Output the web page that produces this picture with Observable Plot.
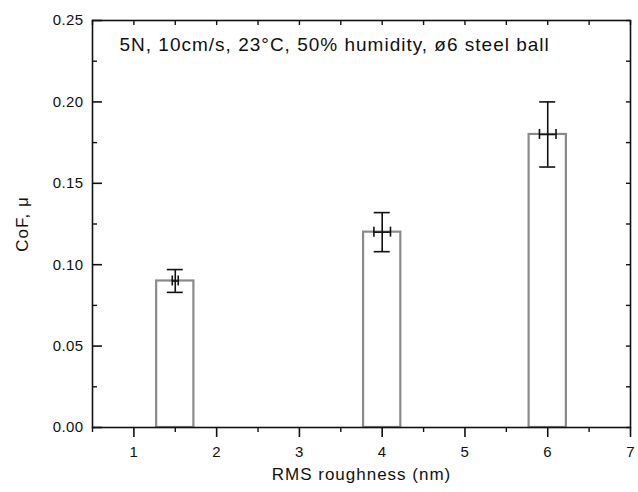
<!DOCTYPE html>
<html>
<head>
<meta charset="utf-8">
<script src="https://cdn.jsdelivr.net/npm/d3@7"></script>
<script src="https://cdn.jsdelivr.net/npm/@observablehq/plot@0.6"></script>
<style>
  html, body { margin: 0; padding: 0; background: #fff; }
  #chart svg { display: block; }
  #chart g[aria-label="text"] text { letter-spacing: 1px; }
  #chart g[aria-label="x-axis tick label"] text,
  #chart g[aria-label="y-axis tick label"] text { letter-spacing: 0.4px; }
</style>
</head>
<body>
<div id="chart"></div>
<script>
// ---- data ----
const roughness = [1.5, 4, 6];          // RMS roughness (nm)
const cof = [0.09, 0.12, 0.18];         // CoF, μ
const cofErr = [0.007, 0.012, 0.02];    // ± CoF
const roughErr = [0.036, 0.1, 0.1];     // ± roughness
const barHalfWidth = 0.225;             // half width of bars (nm)

const xMajorTicks = [1, 2, 3, 4, 5, 6, 7];
const xMinorTicks = [0.5, 1.5, 2.5, 3.5, 4.5, 5.5, 6.5];
const xAllTicks = [0.5, 1, 1.5, 2, 2.5, 3, 3.5, 4, 4.5, 5, 5.5, 6, 6.5, 7];
const yMajorTicks = [0, 0.05, 0.10, 0.15, 0.20, 0.25];
const yMinorTicks = [0.025, 0.075, 0.125, 0.175, 0.225];
const yAllTicks = [0, 0.025, 0.05, 0.075, 0.10, 0.125, 0.15, 0.175, 0.20, 0.225, 0.25];

const annotation = "5N, 10cm/s, 23°C, 50% humidity, ø6 steel ball";
const xLabel = "RMS roughness (nm)";
const yLabel = "CoF, μ";

const rows = roughness.map((r, i) => ({r, c: cof[i], ce: cofErr[i], re: roughErr[i]}));

// ---- layout ----
const W = 638, H = 492;
const mL = 92, mR = 8, mT = 20, mB = 65;
const pW = W - mL - mR, pH = H - mT - mB;
const ink = "#111";

const chart = Plot.plot({
  width: W,
  height: H,
  marginLeft: mL,
  marginRight: mR,
  marginTop: mT,
  marginBottom: mB,
  style: {fontFamily: "'Liberation Sans', Arial, Helvetica, sans-serif", fontSize: "15px", color: ink, background: "#fff"},
  x: {domain: [0.5, 7]},
  y: {domain: [0, 0.25]},
  marks: [
    // bars
    Plot.rectY(rows, {x1: d => d.r - barHalfWidth, x2: d => d.r + barHalfWidth, y1: 0, y2: "c",
      fill: "white", stroke: "#8a8a8a", strokeWidth: 2.2}),
    // vertical error bars
    Plot.ruleX(rows, {x: "r", y1: d => d.c - d.ce, y2: d => d.c + d.ce, stroke: ink, strokeWidth: 1.6}),
    Plot.ruleY(rows, {y: d => d.c - d.ce, x1: "r", x2: "r", insetLeft: -8, insetRight: -8, stroke: ink, strokeWidth: 1.6}),
    Plot.ruleY(rows, {y: d => d.c + d.ce, x1: "r", x2: "r", insetLeft: -8, insetRight: -8, stroke: ink, strokeWidth: 1.6}),
    // horizontal error bars
    Plot.ruleY(rows, {y: "c", x1: d => d.r - d.re, x2: d => d.r + d.re, stroke: ink, strokeWidth: 1.6}),
    Plot.ruleX(rows, {x: d => d.r - d.re, y1: "c", y2: "c", insetTop: -5, insetBottom: -5, stroke: ink, strokeWidth: 1.6}),
    Plot.ruleX(rows, {x: d => d.r + d.re, y1: "c", y2: "c", insetTop: -5, insetBottom: -5, stroke: ink, strokeWidth: 1.6}),
    // frame
    Plot.frame({stroke: ink, strokeWidth: 1.6}),
    // left axis: labels, inward ticks
    Plot.axisY(yMajorTicks, {anchor: "left", tickSize: 0, tickPadding: 9, tickFormat: d3.format(".2f"),
      label: null, fontSize: 15}),
    Plot.tickY(yMajorTicks, {y: d => d, insetRight: pW - 10, stroke: ink, strokeWidth: 1.6}),
    Plot.tickY(yMinorTicks, {y: d => d, insetRight: pW - 5, stroke: ink, strokeWidth: 1.4}),
    // right side short inward ticks
    Plot.tickY(yAllTicks, {y: d => d, insetLeft: pW - 4, stroke: ink, strokeWidth: 1.4}),
    // bottom axis: outward ticks
    Plot.axisX(xMajorTicks, {anchor: "bottom", tickSize: 10, tickPadding: 9, strokeWidth: 1.6,
      label: null, fontSize: 15}),
    Plot.axisX(xMinorTicks, {anchor: "bottom", tickSize: 5, strokeWidth: 1.4, tickFormat: () => "", label: null}),
    // top short inward ticks
    Plot.tickX(xAllTicks, {x: d => d, insetBottom: pH - 5, stroke: ink, strokeWidth: 1.4}),
    // axis titles
    Plot.text([xLabel], {text: d => d, frameAnchor: "bottom", dy: 47, textAnchor: "middle",
      lineAnchor: "middle", fontSize: 17, fill: ink}),
    Plot.text([yLabel], {text: d => d, frameAnchor: "left", dx: -70, rotate: -90, textAnchor: "middle",
      lineAnchor: "middle", fontSize: 17, fill: ink}),
    // annotation
    Plot.text([annotation], {text: d => d, frameAnchor: "top-left", dx: 27, dy: 17, textAnchor: "start",
      lineAnchor: "top", fontSize: 19, fill: ink})
  ]
});

document.getElementById("chart").appendChild(chart);
</script>
</body>
</html>
